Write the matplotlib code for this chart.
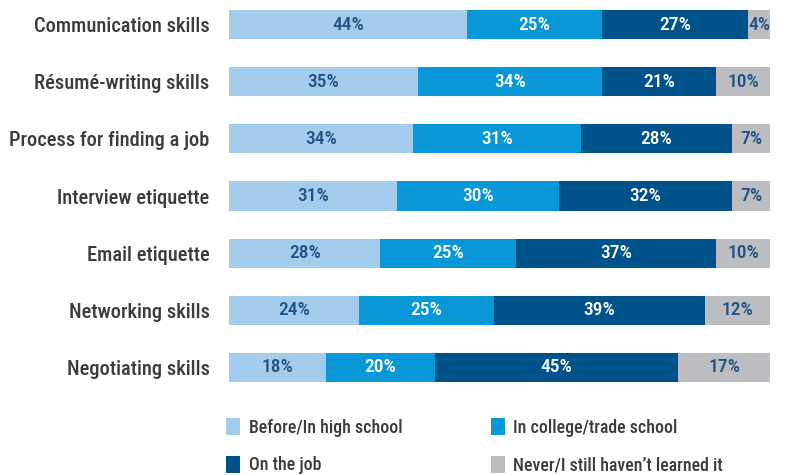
import matplotlib
matplotlib.use("Agg")
import matplotlib.pyplot as plt
import numpy as np

plt.rcParams['font.family'] = ['Roboto Condensed', 'Roboto', 'DejaVu Sans']

skills = ["Communication skills", "Résumé-writing skills", "Process for finding a job",
          "Interview etiquette", "Email etiquette", "Networking skills", "Negotiating skills"]
high_school = [44, 35, 34, 31, 28, 24, 18]
college = [25, 34, 31, 30, 25, 25, 20]
on_job = [27, 21, 28, 32, 37, 39, 45]
never = [4, 10, 7, 7, 10, 12, 17]

series = [
    ("Before/In high school", high_school, "#a3cbec", "#1f5285"),
    ("In college/trade school", college, "#0897d7", "white"),
    ("On the job", on_job, "#00528b", "white"),
    ("Never/I still haven\u2019t learned it", never, "#bcbdc1", "#1f5285"),
]

fig = plt.figure(figsize=(8.09, 4.75), dpi=100)
ax = fig.add_axes([229 / 809, 1 - 382 / 475, 541 / 809, 372 / 475])

h = 0.508
y = np.arange(len(skills))
left = np.zeros(len(skills))
handles = []
for name, vals, color, tcolor in series:
    vals = np.array(vals, dtype=float)
    bars = ax.barh(y, vals, left=left, height=h, color=color, label=name)
    handles.append(bars)
    for yi, l, v in zip(y, left, vals):
        ax.text(l + v / 2, yi, "%d%%" % v, ha="center", va="center",
                color=tcolor, fontsize=14, fontweight="medium")
    left += vals

ax.set_xlim(0, 100)
ax.set_ylim(len(skills) - 1 + h / 2, -h / 2)
ax.set_yticks(y)
ax.set_yticklabels(skills, fontsize=14.8, color="#3c3c3c", fontweight="medium")
ax.tick_params(axis="y", length=0, pad=14)
ax.set_xticks([])
for s in ax.spines.values():
    s.set_visible(False)

# legend fills column-first, so reorder to get two rows of two
order = [handles[0], handles[2], handles[1], handles[3]]
fig.legend(order, [o.get_label() for o in order], ncol=2, loc="upper left",
           bbox_to_anchor=(210 / 809, 1 - 402 / 475), frameon=False,
           prop={"size": 12.9, "weight": "medium"}, handlelength=0.8, handleheight=1.1,
           handletextpad=0.45, columnspacing=4.95, labelspacing=1.05, labelcolor="#3c3c3c")

fig.savefig("out.png", dpi=100)
